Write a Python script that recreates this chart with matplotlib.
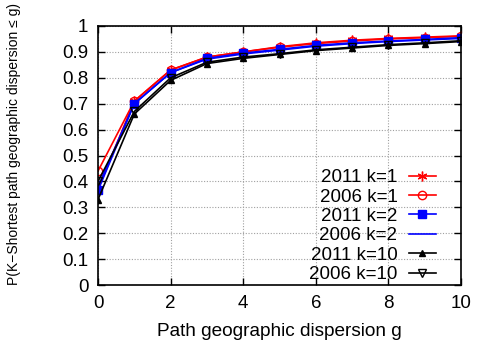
import matplotlib
matplotlib.use("Agg")
import matplotlib.pyplot as plt

plt.rcParams['font.family'] = ['Liberation Sans', 'DejaVu Sans']

g = [0, 1, 2, 3, 4, 5, 6, 7, 8, 9, 10]
y2011_k1 = [0.37, 0.71, 0.83, 0.88, 0.90, 0.92, 0.935, 0.945, 0.952, 0.957, 0.962]
y2006_k1 = [0.44, 0.71, 0.83, 0.88, 0.90, 0.918, 0.932, 0.942, 0.950, 0.955, 0.960]
y2011_k2 = [0.365, 0.70, 0.82, 0.875, 0.895, 0.91, 0.925, 0.935, 0.942, 0.948, 0.955]
y2006_k2 = [0.38, 0.70, 0.82, 0.872, 0.892, 0.907, 0.922, 0.932, 0.940, 0.946, 0.952]
y2011_k10 = [0.33, 0.66, 0.79, 0.855, 0.875, 0.89, 0.905, 0.915, 0.925, 0.932, 0.940]
y2006_k10 = [0.40, 0.67, 0.80, 0.86, 0.88, 0.893, 0.908, 0.918, 0.928, 0.935, 0.943]

xticks = [0, 2, 4, 6, 8, 10]
yticks = [0, 0.1, 0.2, 0.3, 0.4, 0.5, 0.6, 0.7, 0.8, 0.9, 1]
ytick_labels = ['0', '0.1', '0.2', '0.3', '0.4', '0.5', '0.6', '0.7', '0.8', '0.9', '1']

fig = plt.figure(figsize=(4.79, 3.47), dpi=100)
ax = fig.add_axes([98/479, 1-285/347, (461-98)/479, (285-26)/347])

lw = 1.2
ax.plot(g, y2011_k1, color='red', lw=lw, marker=(6, 2, 0), ms=7, mew=1.0, label='2011 k=1')
ax.plot(g, y2006_k1, color='red', lw=lw, marker='o', ms=6, mfc='none', mew=1.0, label='2006 k=1')
ax.plot(g, y2011_k2, color='blue', lw=lw, marker='s', ms=6, label='2011 k=2')
ax.plot(g, y2006_k2, color='blue', lw=lw, label='2006 k=2')
ax.plot(g, y2011_k10, color='black', lw=lw, marker='^', ms=4.5, label='2011 k=10')
ax.plot(g, y2006_k10, color='black', lw=lw, marker='v', ms=6, mfc='none', mew=1.0, label='2006 k=10')

ax.set_xlim(0, 10)
ax.set_ylim(0, 1)
ax.set_xticks(xticks)
ax.set_yticks(yticks)
ax.set_yticklabels(ytick_labels)
ax.tick_params(direction='in', top=True, right=True, length=5, width=1, labelsize=13.5, pad=7)
ax.grid(True, color='#a0a0a0', linestyle=(0, (1, 1.5)), lw=0.8)
for s in ax.spines.values():
    s.set_linewidth(1.2)

ax.set_xlabel('Path geographic dispersion g', fontsize=13.7)
ax.xaxis.set_label_coords(0.5, -0.145)
ax.set_ylabel('P(K\u2212Shortest path geographic dispersion \u2264 g)', fontsize=10)
ax.yaxis.set_label_coords(-0.212, 0.544)

leg = ax.legend(loc='lower right', frameon=False, markerfirst=False, fontsize=13.5,
                handlelength=1.44, labelspacing=0.12, borderaxespad=0.0, borderpad=0.1,
                handletextpad=0.59, bbox_to_anchor=(0.935, 0.0))
fig.savefig('out.png', dpi=100)
